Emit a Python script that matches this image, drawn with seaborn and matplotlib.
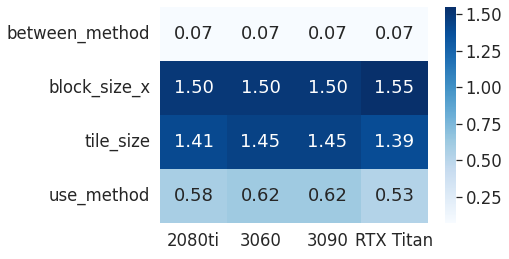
import numpy as np
import pandas as pd
import matplotlib
matplotlib.use('Agg')
import matplotlib.pyplot as plt
import seaborn as sns

# Heatmap data
gpus = ['2080ti', '3060', '3090', 'RTX Titan']
params = ['between_method', 'block_size_x', 'tile_size', 'use_method']
between_method = [0.07, 0.07, 0.07, 0.07]
block_size_x = [1.50, 1.50, 1.50, 1.55]
tile_size = [1.41, 1.45, 1.45, 1.39]
use_method = [0.58, 0.62, 0.62, 0.53]

sns.set(font_scale=1.5)

df = pd.DataFrame([between_method, block_size_x, tile_size, use_method],
                  index=params, columns=gpus)

W, H = 509, 259
fig = plt.figure(figsize=(W / 72, H / 72), dpi=72)
ax = fig.add_axes([160 / W, 36 / H, 268 / W, 216 / H])
cax = fig.add_axes([445 / W, 36 / H, 11 / W, 216 / H])

sns.heatmap(df, annot=True, fmt='.2f', cmap='Blues', ax=ax, cbar_ax=cax)
ax.set_xlabel('')
ax.set_ylabel('')
ax.tick_params(axis='y', rotation=0)
ax.tick_params(axis='x', rotation=0)

fig.savefig('out.png', dpi=72)
